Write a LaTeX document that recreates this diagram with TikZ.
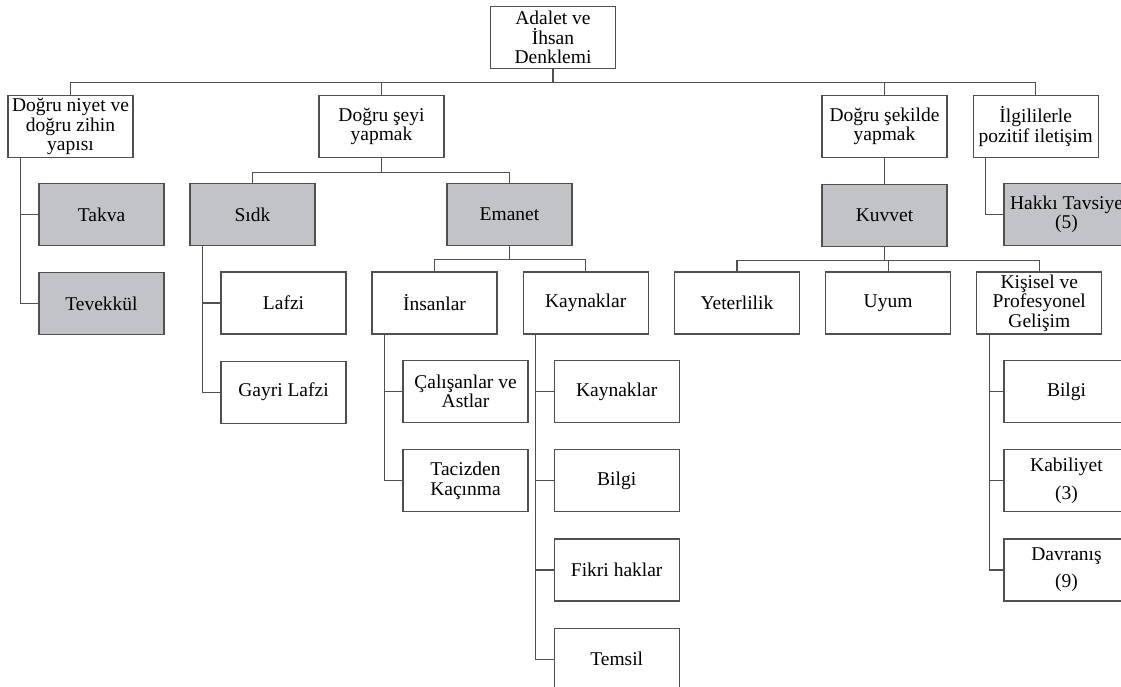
\documentclass[tikz,border=0pt]{standalone}
\usepackage{fontspec}
\setmainfont{Liberation Serif}
\usetikzlibrary{positioning}
\definecolor{boxgray}{RGB}{194,195,198}
\definecolor{linegray}{RGB}{80,80,80}

\begin{document}
\begin{tikzpicture}[
    x=1pt, y=1pt,
    block/.style={rectangle, draw=linegray, fill=white, line width=1.2pt,
                  minimum width=125pt, minimum height=62pt, inner sep=2pt,
                  align=center, font=\fontsize{19.5}{19.5}\selectfont},
    shaded/.style={block, fill=boxgray},
    link/.style={draw=linegray, line width=1.2pt},
    node distance=26pt
  ]
  \useasboundingbox (0,0) rectangle (1121,-686);

  % Top level
  \node[block] (root) at (553,-37.5) {Adalet ve\\İhsan\\Denklemi};
  \node[block] (niyet) at (70.5,-126.5) {Doğru niyet ve\\doğru zihin\\yapısı};
  \node[block] (seyi) at (381.5,-126.5) {Doğru şeyi\\yapmak};
  \node[block] (sekil) at (884.5,-126.5) {Doğru şekilde\\yapmak};
  \node[block, right=25pt of sekil] (ilgi) {İlgililerle\\pozitif iletişim};

  % Virtues
  \node[shaded] (takva) at (101.5,-214.5) {Takva};
  \node[shaded, below=of takva] (tevekkul) {Tevekkül};
  \node[shaded] (sidk) at (252.5,-214.5) {Sıdk};
  \node[shaded] (emanet) at (509.5,-214.5) {Emanet};
  \node[shaded, below=of sekil] (kuvvet) {Kuvvet};
  \node[shaded] (tavsiye) at (1066.5,-214.5) {Hakkı Tavsiye\\(5)};

  % Sidk
  \node[block] (lafzi) at (283.5,-303) {Lafzi};
  \node[block, below=of lafzi] (gayri) {Gayri Lafzi};

  % Emanet and Kuvvet
  \node[block] (insan) at (434.5,-303) {İnsanlar};
  \node[block, right=25pt of insan] (kaynak) {Kaynaklar};
  \node[block, right=25pt of kaynak] (yeter) {Yeterlilik};
  \node[block, right=25pt of yeter] (uyum) {Uyum};
  \node[block, right=25pt of uyum] (gelisim) {Kişisel ve\\Profesyonel\\Gelişim};

  % Insanlar
  \node[block] (calisan) at (465.5,-391.5) {Çalışanlar ve\\Astlar};
  \node[block, below=of calisan] (taciz) {Tacizden\\Kaçınma};

  % Kaynaklar
  \node[block, right=25pt of calisan] (kaynak2) {Kaynaklar};
  \node[block, below=of kaynak2] (bilgi) {Bilgi};
  \node[block, below=of bilgi] (fikri) {Fikri haklar};
  \node[block, below=of fikri] (temsil) {Temsil};

  % Gelisim
  \node[block] (bilgi2) at (1066.5,-391.5) {Bilgi};
  \node[block, below=of bilgi2] (kabil) {Kabiliyet\\[8pt](3)};
  \node[block, below=of kabil] (davran) {Davranış\\[8pt](9)};

  % Tree links
  \foreach \c in {niyet,seyi,sekil,ilgi}
    \draw[link] (root.south) -- ++(0,-13.5) -| (\c.north);
  \foreach \c in {sidk,emanet}
    \draw[link] (seyi.south) -- ++(0,-14) -| (\c.north);
  \draw[link] (sekil.south) -- (kuvvet.north);
  \foreach \c in {insan,kaynak}
    \draw[link] (emanet.south) -- ++(0,-13) -| (\c.north);
  \foreach \c in {yeter,uyum,gelisim}
    \draw[link] (kuvvet.south) -- ++(0,-13) -| (\c.north);

  % Side links
  \foreach \c in {takva,tevekkul}
    \draw[link] ([xshift=13pt]niyet.south west) |- (\c.west);
  \foreach \c in {lafzi,gayri}
    \draw[link] ([xshift=13pt]sidk.south west) |- (\c.west);
  \draw[link] ([xshift=13pt]ilgi.south west) |- (tavsiye.west);
  \foreach \c in {calisan,taciz}
    \draw[link] ([xshift=13pt]insan.south west) |- (\c.west);
  \foreach \c in {kaynak2,bilgi,fikri,temsil}
    \draw[link] ([xshift=13pt]kaynak.south west) |- (\c.west);
  \foreach \c in {bilgi2,kabil,davran}
    \draw[link] ([xshift=13pt]gelisim.south west) |- (\c.west);
\end{tikzpicture}
\end{document}
